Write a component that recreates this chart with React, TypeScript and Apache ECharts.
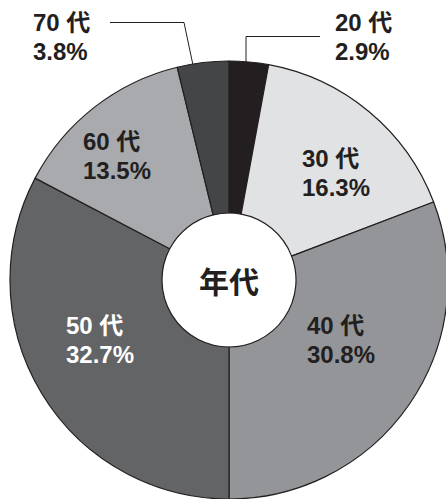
import React, { useEffect, useRef } from "react";
import * as echarts from "echarts";

const categories = ["20 代", "30 代", "40 代", "50 代", "60 代", "70 代"];
const shares = [2.9, 16.3, 30.8, 32.7, 13.5, 3.8];
const sliceColors = ["#231f20", "#e1e2e3", "#939598", "#636466", "#a8aaad", "#434547"];
const labelColors = ["#231f20", "#231f20", "#231f20", "#ffffff", "#231f20", "#231f20"];
const outsideLabels = [true, false, false, false, false, true];
const centerTitle = "年代";

// label anchor (left, vertical middle) per slice
const labelAnchors: number[][] = [
  [335, 37],
  [302, 173],
  [307, 340],
  [66, 340],
  [83, 156],
  [33, 37],
];
const leaderLines: (number[][] | null)[] = [
  [[320, 36.5], [246, 36.5], [246, 62]],
  null,
  null,
  null,
  null,
  [[110, 22.5], [184, 22.5], [201, 103]],
];

export default function App() {
  const ref = useRef<HTMLDivElement>(null);
  useEffect(() => {
    if (!ref.current) return;
    const chart = echarts.init(ref.current, null, { renderer: "svg" });
    const font = "'Liberation Sans', Arial, 'Noto Sans CJK JP', sans-serif";
    chart.setOption({
      animation: false,
      backgroundColor: "#ffffff",
      series: [
        {
          type: "pie",
          center: [229, 280],
          radius: [67, 219],
          startAngle: 90,
          clockwise: true,
          avoidLabelOverlap: false,
          emphasis: { disabled: true },
          itemStyle: { borderColor: "#231f20", borderWidth: 1.2 },
          label: {
            formatter: (p: any) => `${p.name}\n${p.value.toFixed(1)}%`,
            fontFamily: font,
            fontWeight: "bold",
            fontSize: 24,
            lineHeight: 29,
            align: "left",
          },
          labelLine: { lineStyle: { color: "#231f20", width: 1 }, smooth: false },
          labelLayout: (params: any) => {
            const i = params.dataIndex;
            const res: any = {
              x: labelAnchors[i][0],
              y: labelAnchors[i][1],
              align: "left",
              verticalAlign: "middle",
            };
            if (leaderLines[i]) res.labelLinePoints = leaderLines[i];
            return res;
          },
          data: categories.map((name, i) => ({
            name,
            value: shares[i],
            itemStyle: { color: sliceColors[i] },
            label: {
              position: outsideLabels[i] ? "outside" : "inside",
              color: labelColors[i],
            },
            labelLine: { show: outsideLabels[i] },
          })),
        },
      ],
      graphic: [
        {
          type: "text",
          x: 229,
          y: 280,
          style: {
            text: centerTitle,
            fontFamily: "'Noto Sans CJK JP', sans-serif",
            fontWeight: "bold",
            fontSize: 30,
            fill: "#231f20",
            align: "center",
            verticalAlign: "middle",
          },
        },
      ],
    });
    return () => chart.dispose();
  }, []);
  return (
    <div
      ref={ref}
      style={{ position: "absolute", left: 0, top: 0, width: 446, height: 499 }}
    />
  );
}
